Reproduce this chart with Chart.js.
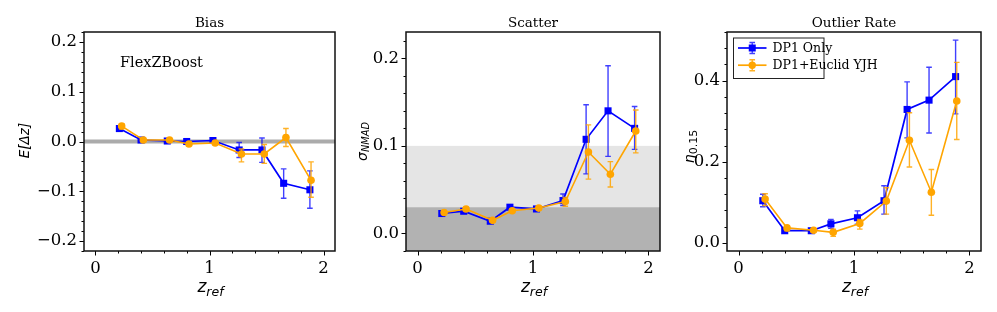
<!DOCTYPE html>
<html><head><meta charset="utf-8">
<script src="https://cdn.jsdelivr.net/npm/chart.js@4.4.1/dist/chart.umd.min.js"></script>
<style>
html,body{margin:0;padding:0;background:#fff;width:997px;height:312px;overflow:hidden}
canvas.p{position:absolute;top:0}
</style></head><body>
<canvas id="c1" class="p" width="340" height="312" style="left:0px"></canvas>
<canvas id="c2" class="p" width="330" height="312" style="left:340px"></canvas>
<canvas id="c3" class="p" width="327" height="312" style="left:670px"></canvas>
<script>
// ---------------- data ----------------
const seriesNames = ['DP1 Only', 'DP1+Euclid YJH'];
const panelTitles = ['Bias', 'Scatter', 'Outlier Rate'];
const annotationText = 'FlexZBoost';

const xTicks = [0, 1, 2];
const biasTicks = [-0.2, -0.1, 0.0, 0.1, 0.2];
const scatterTicks = [0.0, 0.1, 0.2];
const outlierTicks = [0.0, 0.2, 0.4];

const zBlue   = [0.21, 0.40, 0.63, 0.80, 1.03, 1.26, 1.46, 1.65, 1.88];
const zOrange = [0.23, 0.42, 0.65, 0.82, 1.05, 1.28, 1.48, 1.67, 1.89];

const biasBlue     = [0.026, 0.003, 0.001, 0.000, 0.002, -0.017, -0.017, -0.084, -0.097];
const biasBlueLo   = [0.021, 0.001, -0.001, -0.002, -0.001, -0.032, -0.042, -0.114, -0.134];
const biasBlueHi   = [0.031, 0.005, 0.003, 0.002, 0.004, -0.002, 0.007, -0.055, -0.059];
const biasOrange   = [0.031, 0.003, 0.003, -0.005, -0.003, -0.025, -0.025, 0.008, -0.078];
const biasOrangeLo = [0.025, 0.001, 0.001, -0.008, -0.006, -0.041, -0.044, -0.010, -0.112];
const biasOrangeHi = [0.036, 0.005, 0.005, -0.002, 0.000, -0.015, -0.006, 0.026, -0.041];

const scatBlue     = [0.0228, 0.0254, 0.0140, 0.0300, 0.0280, 0.0376, 0.1075, 0.1400, 0.1200];
const scatBlueLo   = [0.0210, 0.0240, 0.0130, 0.0280, 0.0260, 0.0320, 0.0680, 0.0880, 0.0960];
const scatBlueHi   = [0.0250, 0.0270, 0.0160, 0.0320, 0.0300, 0.0450, 0.1470, 0.1915, 0.1450];
const scatOrange   = [0.0240, 0.0280, 0.0150, 0.0260, 0.0290, 0.0365, 0.0930, 0.0676, 0.1170];
const scatOrangeLo = [0.0220, 0.0260, 0.0130, 0.0250, 0.0270, 0.0310, 0.0620, 0.0530, 0.0920];
const scatOrangeHi = [0.0260, 0.0300, 0.0170, 0.0280, 0.0310, 0.0410, 0.1240, 0.0820, 0.1410];

const outBlue     = [0.104, 0.030, 0.030, 0.047, 0.062, 0.104, 0.329, 0.352, 0.410];
const outBlueLo   = [0.089, 0.025, 0.026, 0.036, 0.046, 0.071, 0.259, 0.271, 0.318];
const outBlueHi   = [0.120, 0.035, 0.034, 0.058, 0.079, 0.141, 0.397, 0.433, 0.500];
const outOrange   = [0.108, 0.037, 0.031, 0.026, 0.048, 0.103, 0.253, 0.125, 0.350];
const outOrangeLo = [0.092, 0.030, 0.028, 0.016, 0.034, 0.071, 0.187, 0.068, 0.255];
const outOrangeHi = [0.121, 0.042, 0.035, 0.034, 0.058, 0.136, 0.321, 0.181, 0.445];

const scatterGoodLimit = 0.03;   // dark band upper edge
const scatterOkLimit = 0.1;      // light band upper edge
const biasZero = 0.0;

// ---------------- styling ----------------
const BLUE = '#0000ff', ORANGE = '#ffa500';
const BLUE_ERR = 'rgba(0,0,255,0.75)', ORANGE_ERR = 'rgba(255,165,0,0.85)';
const SERIF = '"DejaVu Serif", serif';
const SANS = '"DejaVu Sans", sans-serif';
const TICK_FONT = {family: SERIF, size: 16.5};

function drawParts(ctx, parts, x, y, align, rot) {
  ctx.save();
  ctx.translate(x, y);
  if (rot) ctx.rotate(rot);
  ctx.textBaseline = 'alphabetic';
  ctx.textAlign = 'left';
  ctx.fillStyle = '#000';
  let total = 0;
  const w = parts.map(p => { ctx.font = p.font; const m = ctx.measureText(p.text).width; total += m; return m; });
  let cx = align === 'center' ? -total / 2 : (align === 'right' ? -total : 0);
  parts.forEach((p, i) => { ctx.font = p.font; ctx.fillText(p.text, cx, p.dy || 0); cx += w[i]; });
  ctx.restore();
}

function fmtY(v) {
  const s = Number(v).toFixed(1);
  return s.replace('-', '\u2212');
}

function pts(xs, ys) { return xs.map((x, i) => ({x: x, y: ys[i]})); }

function panelPlugin(cfg) {
  return {
    id: 'panel' + cfg.key,
    beforeDatasetsDraw(chart) {
      const ctx = chart.ctx, a = chart.chartArea, ys = chart.scales.y;
      ctx.save();
      if (cfg.bands) {
        const yg = ys.getPixelForValue(scatterGoodLimit);
        const yo = ys.getPixelForValue(scatterOkLimit);
        ctx.fillStyle = '#e5e5e5';
        ctx.fillRect(a.left, yo, a.right - a.left, yg - yo);
        ctx.fillStyle = '#b2b2b2';
        ctx.fillRect(a.left, yg, a.right - a.left, a.bottom - yg);
      }
      if (cfg.zeroLine) {
        const y0 = ys.getPixelForValue(biasZero);
        ctx.strokeStyle = 'rgba(150,150,150,0.8)';
        ctx.lineWidth = 4;
        ctx.beginPath(); ctx.moveTo(a.left, y0); ctx.lineTo(a.right, y0); ctx.stroke();
      }
      ctx.restore();
    },
    beforeDatasetDraw(chart, args) {
      const ds = chart.data.datasets[args.index];
      const ctx = chart.ctx, ys = chart.scales.y;
      ctx.save();
      ctx.strokeStyle = ds.errColor;
      ctx.lineWidth = 1.4;
      args.meta.data.forEach((pt, i) => {
        const y0 = ys.getPixelForValue(ds.errLo[i]);
        const y1 = ys.getPixelForValue(ds.errHi[i]);
        ctx.beginPath();
        ctx.moveTo(pt.x, y0); ctx.lineTo(pt.x, y1);
        ctx.moveTo(pt.x - 2.8, y0); ctx.lineTo(pt.x + 2.8, y0);
        ctx.moveTo(pt.x - 2.8, y1); ctx.lineTo(pt.x + 2.8, y1);
        ctx.stroke();
      });
      ctx.restore();
    },
    afterDraw(chart) {
      const ctx = chart.ctx, a = chart.chartArea, xs = chart.scales.x, ys = chart.scales.y;
      ctx.save();
      // ticks
      ctx.strokeStyle = '#000';
      ctx.lineWidth = 1;
      ctx.beginPath();
      xTicks.forEach(v => { const p = Math.round(xs.getPixelForValue(v)) + 0.5; ctx.moveTo(p, a.bottom); ctx.lineTo(p, a.bottom + 4.5); });
      for (let k = Math.ceil(xs.min / 0.2); k * 0.2 <= xs.max + 1e-9; k++) {
        const v = k * 0.2;
        if (Math.abs(v - Math.round(v)) < 1e-6) continue;
        const p = Math.round(xs.getPixelForValue(v)) + 0.5;
        ctx.moveTo(p, a.bottom); ctx.lineTo(p, a.bottom + 2.5);
      }
      cfg.yTicks.forEach(v => { const p = Math.round(ys.getPixelForValue(v)) + 0.5; ctx.moveTo(a.left - 4.5, p); ctx.lineTo(a.left, p); });
      const st = cfg.yMinor;
      for (let k = Math.ceil((ys.min - 1e-9) / st); k * st <= ys.max + 1e-9; k++) {
        const v = k * st;
        if (cfg.yTicks.some(t => Math.abs(t - v) < 1e-6)) continue;
        const p = Math.round(ys.getPixelForValue(v)) + 0.5;
        if (p < a.top || p > a.bottom + 1) continue;
        ctx.moveTo(a.left - 2.5, p); ctx.lineTo(a.left, p);
      }
      ctx.stroke();
      // frame
      ctx.lineWidth = 1.5;
      ctx.strokeStyle = '#111';
      ctx.strokeRect(a.left, a.top, a.right - a.left, a.bottom - a.top);
      ctx.restore();
      // title
      const cxm = (a.left + a.right) / 2;
      drawParts(ctx, [{text: cfg.title, font: '13.5px ' + SERIF}], cxm, 27, 'center');
      // x label
      drawParts(ctx, [
        {text: 'z', font: 'italic 17px ' + SANS},
        {text: 'ref', font: 'italic 12.5px ' + SANS, dy: 3.6}
      ], cxm + 1, 292, 'center');
      // y label
      drawParts(ctx, cfg.yLabel, cfg.yLabelX, cfg.yLabelY, 'center', -Math.PI / 2);
      if (cfg.annotate) {
        drawParts(ctx, [{text: annotationText, font: '14.5px ' + SERIF}], a.left + 36, 66.5, 'left');
      }
      if (cfg.legend) {
        const bx = a.left + 6, by = a.top + 5.5, bw = 90.5, bh = 40.5;
        ctx.save();
        ctx.fillStyle = 'rgba(255,255,255,0.9)';
        ctx.fillRect(bx, by, bw, bh);
        ctx.strokeStyle = '#222';
        ctx.lineWidth = 1;
        ctx.strokeRect(bx + 0.5, by + 0.5, bw, bh);
        const rows = [
          {c: BLUE, e: BLUE_ERR, style: 'rect', y: a.top + 16},
          {c: ORANGE, e: ORANGE_ERR, style: 'circle', y: a.top + 33.2}
        ];
        rows.forEach((r, i) => {
          const x0 = a.left + 11, x1 = a.left + 39.5, xm = (x0 + x1) / 2;
          ctx.strokeStyle = r.c; ctx.lineWidth = 1.7;
          ctx.beginPath(); ctx.moveTo(x0, r.y); ctx.lineTo(x1, r.y); ctx.stroke();
          ctx.strokeStyle = r.e; ctx.lineWidth = 1.4;
          ctx.beginPath();
          ctx.moveTo(xm, r.y - 5.5); ctx.lineTo(xm, r.y + 5.5);
          ctx.moveTo(xm - 2.8, r.y - 5.5); ctx.lineTo(xm + 2.8, r.y - 5.5);
          ctx.moveTo(xm - 2.8, r.y + 5.5); ctx.lineTo(xm + 2.8, r.y + 5.5);
          ctx.stroke();
          ctx.fillStyle = r.c;
          if (r.style === 'rect') ctx.fillRect(xm - 3.5, r.y - 3.5, 7, 7);
          else { ctx.beginPath(); ctx.arc(xm, r.y, 3.7, 0, Math.PI * 2); ctx.fill(); }
          ctx.fillStyle = '#000';
          ctx.font = '12.5px ' + SERIF;
          ctx.textBaseline = 'middle';
          ctx.textAlign = 'left';
          ctx.fillText(seriesNames[i], a.left + 45.5, r.y + 0.5);
        });
        ctx.restore();
      }
    }
  };
}

function makeChart(id, cfg) {
  const datasets = [
    {
      label: seriesNames[0], data: pts(zBlue, cfg.blue), errLo: cfg.blueLo, errHi: cfg.blueHi, errColor: BLUE_ERR,
      borderColor: BLUE, backgroundColor: BLUE, borderWidth: 1.7, pointStyle: 'rect', pointRadius: 5,
      pointBorderWidth: 0, pointBackgroundColor: BLUE, tension: 0, order: 2, clip: false
    },
    {
      label: seriesNames[1], data: pts(zOrange, cfg.orange), errLo: cfg.orangeLo, errHi: cfg.orangeHi, errColor: ORANGE_ERR,
      borderColor: ORANGE, backgroundColor: ORANGE, borderWidth: 1.6, pointStyle: 'circle', pointRadius: 3.8,
      pointBorderWidth: 0, pointBackgroundColor: ORANGE, tension: 0, order: 1, clip: false
    }
  ];
  return new Chart(document.getElementById(id), {
    type: 'line',
    data: {datasets},
    options: {
      responsive: false, animation: false, events: [],
      layout: {padding: {top: 32, right: cfg.padRight, bottom: 0, left: 0}},
      plugins: {legend: {display: false}, tooltip: {enabled: false}, title: {display: false}},
      scales: {
        x: {
          type: 'linear', min: -0.1, max: 2.1,
          afterBuildTicks: s => { s.ticks = xTicks.map(v => ({value: v})); },
          afterFit: s => { s.height = 61; },
          grid: {display: false, drawTicks: false},
          border: {display: false},
          ticks: {font: TICK_FONT, color: '#000', padding: 8, maxRotation: 0, callback: v => String(v)}
        },
        y: {
          type: 'linear', min: cfg.yMin, max: cfg.yMax,
          afterBuildTicks: s => { s.ticks = cfg.yTicks.map(v => ({value: v})); },
          afterFit: s => { s.width = cfg.yw; },
          grid: {display: false, drawTicks: false},
          border: {display: false},
          ticks: {font: TICK_FONT, color: '#000', padding: 7, callback: v => fmtY(v)}
        }
      }
    },
    plugins: [panelPlugin(cfg)]
  });
}

makeChart('c1', {
  key: 1, title: panelTitles[0], yMin: -0.22, yMax: 0.22, yTicks: biasTicks, yMinor: 0.02, yw: 84, padRight: 2,
  blue: biasBlue, blueLo: biasBlueLo, blueHi: biasBlueHi, orange: biasOrange, orangeLo: biasOrangeLo, orangeHi: biasOrangeHi,
  zeroLine: true, annotate: true,
  yLabel: [{text: 'E[\u0394z]', font: 'italic 13.5px ' + SANS}], yLabelX: 28.5, yLabelY: 140.5
});
makeChart('c2', {
  key: 2, title: panelTitles[1], yMin: -0.02, yMax: 0.23, yTicks: scatterTicks, yMinor: 0.02, yw: 66, padRight: 10,
  blue: scatBlue, blueLo: scatBlueLo, blueHi: scatBlueHi, orange: scatOrange, orangeLo: scatOrangeLo, orangeHi: scatOrangeHi,
  bands: true,
  yLabel: [{text: '\u03c3', font: 'italic 14px ' + SANS}, {text: 'NMAD', font: 'italic 9.8px ' + SANS, dy: 2.6}],
  yLabelX: 26.5, yLabelY: 141.5
});
makeChart('c3', {
  key: 3, title: panelTitles[2], yMin: -0.02, yMax: 0.52, yTicks: outlierTicks, yMinor: 0.04, yw: 57, padRight: 16,
  blue: outBlue, blueLo: outBlueLo, blueHi: outBlueHi, orange: outOrange, orangeLo: outOrangeLo, orangeHi: outOrangeHi,
  legend: true,
  yLabel: [{text: '\u03b7', font: 'italic 14px ' + SANS}, {text: '0.15', font: '11px ' + SANS, dy: 2.8}],
  yLabelX: 24, yLabelY: 146.5
});
</script>
</body></html>
